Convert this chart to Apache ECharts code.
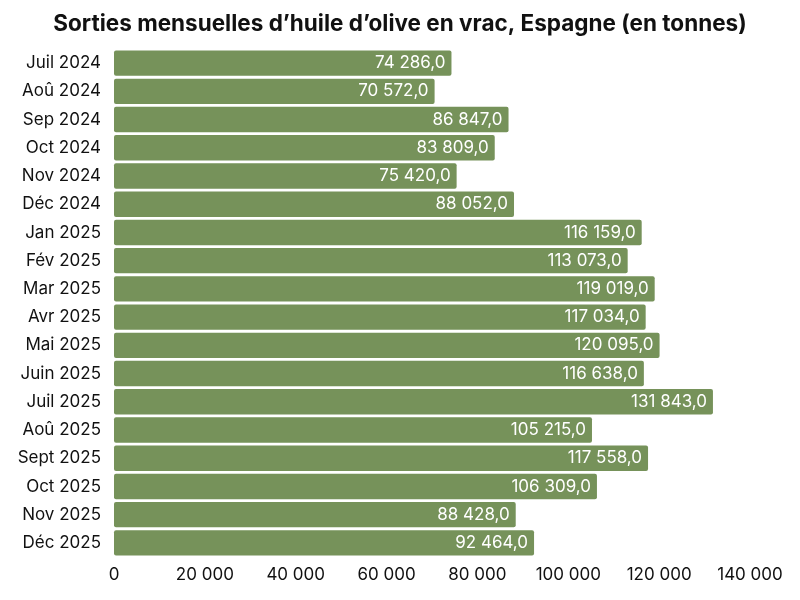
<!DOCTYPE html>
<html><head><meta charset="utf-8">
<script src="https://cdn.jsdelivr.net/npm/echarts@6/dist/echarts.min.js"></script>
<style>html,body{margin:0;padding:0;background:#fff}#c{width:800px;height:600px}</style>
</head><body><div id="c"></div>
<script>
const categories = ["Juil 2024","Aoû 2024","Sep 2024","Oct 2024","Nov 2024","Déc 2024","Jan 2025","Fév 2025","Mar 2025","Avr 2025","Mai 2025","Juin 2025","Juil 2025","Aoû 2025","Sept 2025","Oct 2025","Nov 2025","Déc 2025"];
const values = [74286,70572,86847,83809,75420,88052,116159,113073,119019,117034,120095,116638,131843,105215,117558,106309,88428,92464];
const xTicks = [0,20000,40000,60000,80000,100000,120000,140000];

function fmtThousands(v){
  return String(Math.round(v)).replace(/\B(?=(\d{3})+(?!\d))/g,' ');
}
const chart = echarts.init(document.getElementById('c'));
chart.setOption({
  animation:false,
  textStyle:{fontFamily:'Inter'},
  title:{text:"Sorties mensuelles d’huile d’olive en vrac, Espagne (en tonnes)",left:'center',top:8,
    textStyle:{fontFamily:'Inter',fontWeight:'bold',fontSize:22.5,color:'#111'}},
  grid:{left:114,right:50,top:49,bottom:43,containLabel:false},
  xAxis:{type:'value',min:xTicks[0],max:xTicks[xTicks.length-1],interval:20000,
    axisLine:{show:false},axisTick:{show:false},splitLine:{show:false},
    axisLabel:{color:'#111',fontSize:17,fontFamily:'Inter',margin:9,formatter:v=>fmtThousands(v)}},
  yAxis:{type:'category',data:categories,inverse:true,
    axisLine:{show:false},axisTick:{show:false},
    axisLabel:{color:'#111',fontSize:17,fontFamily:'Inter',margin:13}},
  series:[{type:'bar',data:values,barCategoryGap:'10%',
    itemStyle:{color:'#76925a',borderRadius:2},
    label:{show:true,position:'insideRight',color:'#fff',fontSize:17,fontFamily:'Inter',distance:6,
      formatter:p=>fmtThousands(p.value)+',0'}}]
});
</script></body></html>
